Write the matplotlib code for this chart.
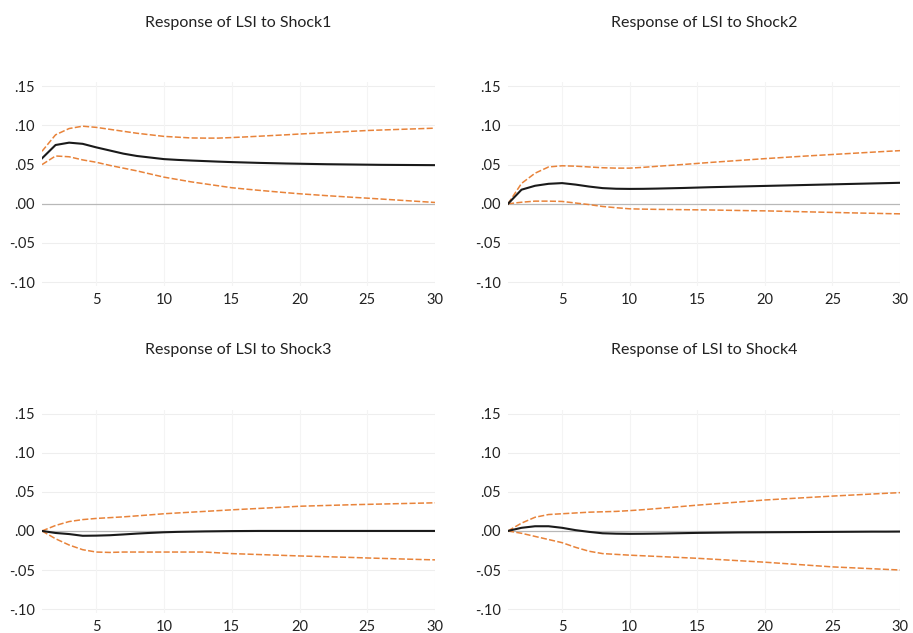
import numpy as np
import matplotlib.pyplot as plt

plt.rcParams['font.family'] = ['Lato', 'DejaVu Sans']

periods = np.arange(1, 31)

titles = ['Response of LSI to Shock1', 'Response of LSI to Shock2',
          'Response of LSI to Shock3', 'Response of LSI to Shock4']

mean1 = [0.058, 0.075, 0.078, 0.0765, 0.072, 0.068, 0.064, 0.061, 0.059, 0.057,
         0.0560, 0.0552, 0.0545, 0.0538, 0.0532, 0.0527, 0.0522, 0.0518, 0.0514, 0.0511,
         0.0508, 0.0505, 0.0503, 0.0501, 0.0499, 0.0497, 0.0496, 0.0495, 0.0494, 0.0493]
upper1 = [0.067, 0.088, 0.096, 0.099, 0.0975, 0.095, 0.0925, 0.090, 0.088, 0.086,
          0.085, 0.084, 0.0838, 0.0838, 0.0845, 0.0853, 0.0862, 0.0871, 0.0880, 0.0890,
          0.0899, 0.0908, 0.0917, 0.0926, 0.0935, 0.0941, 0.0947, 0.0953, 0.0959, 0.0965]
lower1 = [0.050, 0.061, 0.060, 0.056, 0.053, 0.049, 0.0455, 0.042, 0.038, 0.034,
          0.031, 0.028, 0.0255, 0.0230, 0.0205, 0.0188, 0.0172, 0.0157, 0.0142, 0.0128,
          0.0116, 0.0104, 0.0093, 0.0082, 0.0072, 0.0061, 0.0050, 0.0039, 0.0028, 0.0017]

mean2 = [0.0, 0.018, 0.023, 0.0255, 0.0264, 0.0245, 0.022, 0.020, 0.0192, 0.019,
         0.0191, 0.0194, 0.0198, 0.0202, 0.0207, 0.0212, 0.0216, 0.022, 0.0224, 0.0228,
         0.0232, 0.0236, 0.024, 0.0244, 0.0248, 0.0252, 0.0256, 0.026, 0.0264, 0.0268]
upper2 = [0.0, 0.026, 0.039, 0.047, 0.0485, 0.048, 0.047, 0.046, 0.0455, 0.0455,
          0.0465, 0.0478, 0.049, 0.0502, 0.0515, 0.0528, 0.0540, 0.0552, 0.0564, 0.0576,
          0.0587, 0.0598, 0.0609, 0.0619, 0.0629, 0.0639, 0.0649, 0.0659, 0.0669, 0.0678]
lower2 = [0.0, 0.002, 0.0034, 0.0034, 0.003, 0.001, -0.001, -0.0034, -0.005, -0.0064,
          -0.0068, -0.0071, -0.0073, -0.0075, -0.0077, -0.0079, -0.0082, -0.0085, -0.0088, -0.009,
          -0.0094, -0.0098, -0.0102, -0.0106, -0.011, -0.0114, -0.0118, -0.0121, -0.0125, -0.0128]

mean3 = [0.0, -0.0026, -0.004, -0.0062, -0.006, -0.0055, -0.0045, -0.0034, -0.0025, -0.0017,
         -0.0012, -0.0009, -0.0006, -0.0004, -0.0002, -0.0001, 0.0, 0.0, 0.0, 0.0,
         0.0, 0.0, 0.0, 0.0, 0.0, 0.0, 0.0, 0.0, 0.0, 0.0]
upper3 = [0.0, 0.007, 0.012, 0.0145, 0.016, 0.017, 0.018, 0.0193, 0.0206, 0.022,
          0.023, 0.024, 0.025, 0.026, 0.027, 0.0279, 0.0288, 0.0297, 0.0306, 0.0316,
          0.0321, 0.0326, 0.0331, 0.0336, 0.034, 0.0344, 0.0348, 0.0352, 0.0356, 0.036]
lower3 = [0.0, -0.010, -0.018, -0.024, -0.027, -0.0275, -0.027, -0.027, -0.027, -0.027,
          -0.027, -0.027, -0.027, -0.028, -0.029, -0.0296, -0.0302, -0.0308, -0.0314, -0.032,
          -0.0325, -0.033, -0.0335, -0.034, -0.0346, -0.0351, -0.0356, -0.0361, -0.0366, -0.037]

mean4 = [0.0, 0.004, 0.006, 0.006, 0.004, 0.001, -0.0012, -0.003, -0.0035, -0.0037,
         -0.0036, -0.0034, -0.0031, -0.0028, -0.0025, -0.0023, -0.0021, -0.0019, -0.0018, -0.0017,
         -0.0016, -0.0015, -0.0014, -0.0013, -0.0012, -0.0011, -0.001, -0.0009, -0.0009, -0.0008]
upper4 = [0.0, 0.010, 0.0175, 0.021, 0.022, 0.023, 0.024, 0.0245, 0.025, 0.026,
          0.0272, 0.0286, 0.0300, 0.0315, 0.033, 0.0343, 0.0356, 0.0369, 0.0382, 0.0396,
          0.0406, 0.0416, 0.0426, 0.0436, 0.0446, 0.0455, 0.0464, 0.0473, 0.0482, 0.049]
lower4 = [0.0, -0.003, -0.007, -0.011, -0.015, -0.021, -0.026, -0.029, -0.030, -0.031,
          -0.0318, -0.0326, -0.0334, -0.0342, -0.035, -0.036, -0.037, -0.038, -0.039, -0.040,
          -0.0412, -0.0424, -0.0436, -0.0448, -0.046, -0.0468, -0.0476, -0.0484, -0.0492, -0.050]

means = [mean1, mean2, mean3, mean4]
uppers = [upper1, upper2, upper3, upper4]
lowers = [lower1, lower2, lower3, lower4]

yticks = [-0.10, -0.05, 0.00, 0.05, 0.10, 0.15]
ytick_labels = ['-.10', '-.05', '.00', '.05', '.10', '.15']
xticks = [5, 10, 15, 20, 25, 30]

orange = '#E8833A'

fig = plt.figure(figsize=(9.13, 6.33), dpi=100)
# [left, bottom, width, height] in figure fractions
boxes = [[0.046, 0.548, 0.4305, 0.322],
         [0.5564, 0.548, 0.4294, 0.322],
         [0.046, 0.0316, 0.4305, 0.321],
         [0.5564, 0.0316, 0.4294, 0.321]]

for i in range(4):
    ax = fig.add_axes(boxes[i])
    ax.set_xlim(1, 30)
    ax.set_ylim(-0.105, 0.155)
    for yv in yticks:
        if yv == 0:
            ax.axhline(yv, color='#b8b8b8', lw=0.9, zorder=1)
        else:
            ax.axhline(yv, color='#eeeeee', lw=0.8, zorder=0)
    for xv in xticks:
        ax.axvline(xv, color='#f4f4f4', lw=0.8, zorder=0)
    ax.plot(periods, uppers[i], color=orange, lw=1.1, ls=(0, (4, 1.5)), zorder=2)
    ax.plot(periods, lowers[i], color=orange, lw=1.1, ls=(0, (4, 1.5)), zorder=2)
    ax.plot(periods, means[i], color='#1a1a1a', lw=1.5, zorder=3)
    ax.set_yticks(yticks)
    ax.set_yticklabels(ytick_labels)
    ax.set_xticks(xticks)
    ax.tick_params(length=0, labelsize=10.5, colors='#222222', pad=5)
    for s in ax.spines.values():
        s.set_visible(False)
    ax.set_title(titles[i], fontsize=11.5, color='#222222', pad=40)

fig.savefig('out.png', dpi=100)
